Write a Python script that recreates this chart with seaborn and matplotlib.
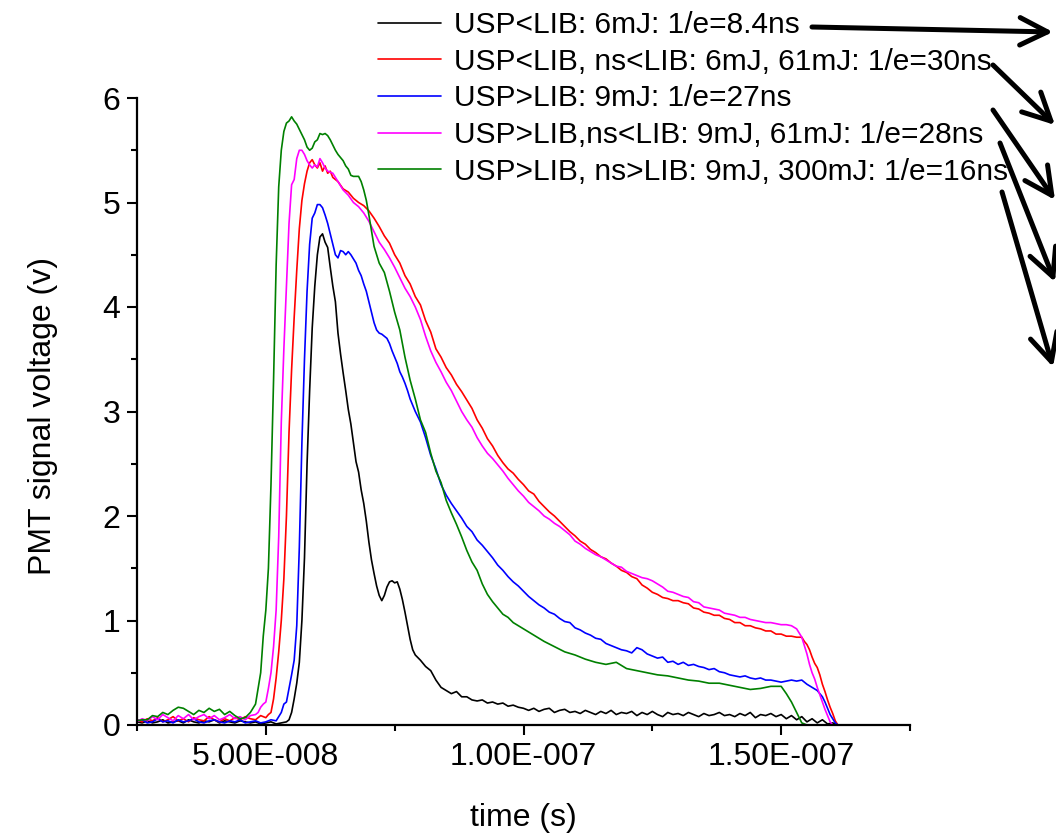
import matplotlib
matplotlib.use("Agg")
import matplotlib.pyplot as plt
from matplotlib.ticker import MultipleLocator, FuncFormatter
import seaborn as sns
import pandas as pd

# ---------------- data (time in ns, signal in V) ----------------
labels = [
    "USP<LIB: 6mJ: 1/e=8.4ns",
    "USP<LIB, ns<LIB: 6mJ, 61mJ: 1/e=30ns",
    "USP>LIB: 9mJ: 1/e=27ns",
    "USP>LIB,ns<LIB: 9mJ, 61mJ: 1/e=28ns",
    "USP>LIB, ns>LIB: 9mJ, 300mJ: 1/e=16ns",
]
colors = ["#000000", "#FF0000", "#0000FF", "#FF00FF", "#008000"]

t_black = list(range(25, 55)) + [54.5, 55, 55.5, 56, 56.5, 57, 57.5, 58, 58.5, 59, 59.5, 60, 60.5, 61, 61.5, 62,
    62.5, 63, 63.5, 64, 64.5, 65, 65.5, 66, 66.5, 67, 67.5, 68, 68.5, 69, 69.5, 70, 70.5, 71, 71.5, 72, 72.5,
    73, 73.5, 74, 74.5, 75, 75.5, 76, 76.5, 77, 77.5, 78, 78.5] + list(range(79, 162))
v_black = [0.03, 0.02, 0.04, 0.02, 0.03, 0.05, 0.02, 0.03, 0.04, 0.02, 0.05, 0.03, 0.02, 0.04, 0.03, 0.05,
    0.02, 0.04, 0.03, 0.02, 0.04, 0.03, 0.02, 0.03, 0.01, 0.02, 0.03, 0.01, 0.02, 0.03,
    0.05, 0.12, 0.25, 0.40, 0.60, 1.00, 1.60, 2.50, 3.20, 3.80, 4.20, 4.50, 4.67, 4.70, 4.62, 4.57,
    4.38, 4.20, 4.05, 3.75, 3.55, 3.37, 3.20, 3.02, 2.88, 2.70, 2.52, 2.42, 2.25, 2.12, 1.95, 1.75, 1.58,
    1.45, 1.33, 1.24, 1.19, 1.24, 1.32, 1.37, 1.38, 1.36, 1.37, 1.30, 1.20, 1.08, 0.95, 0.82, 0.72,
    0.67, 0.62, 0.56, 0.52, 0.43, 0.36, 0.33, 0.30, 0.32, 0.27, 0.27, 0.24, 0.23, 0.24, 0.21, 0.22,
    0.20, 0.21, 0.18, 0.19, 0.17, 0.16, 0.14, 0.16, 0.13, 0.15, 0.16, 0.12, 0.14, 0.15, 0.12, 0.13,
    0.11, 0.14, 0.12, 0.10, 0.13, 0.11, 0.14, 0.10, 0.12, 0.11, 0.13, 0.09, 0.12, 0.10, 0.13, 0.10,
    0.08, 0.12, 0.10, 0.11, 0.09, 0.12, 0.10, 0.08, 0.11, 0.09, 0.10, 0.12, 0.09, 0.10, 0.08, 0.11,
    0.09, 0.12, 0.07, 0.10, 0.09, 0.11, 0.08, 0.10, 0.06, 0.09, 0.05, 0.08, 0.03, 0.06, 0.02, 0.05,
    0.01, 0.02, 0.00]

t_red = list(range(25, 51)) + [50.5, 51, 51.5, 52, 52.5, 53, 53.5, 54, 54.5, 55, 55.5, 56, 56.5, 57, 57.5,
    58, 58.5, 59, 59.5, 60, 60.5, 61, 61.5, 62, 62.5] + list(range(63, 155)) + [154.5, 155, 155.5, 156,
    156.5, 157, 157.5, 158, 158.5, 159, 159.5, 160, 160.5, 161, 162]
v_red = [0.05, 0.03, 0.06, 0.04, 0.07, 0.03, 0.05, 0.08, 0.04, 0.06, 0.03, 0.07, 0.05, 0.04, 0.08, 0.05,
    0.03, 0.06, 0.04, 0.07, 0.05, 0.08, 0.06, 0.05, 0.09, 0.07,
    0.10, 0.12, 0.25, 0.45, 0.70, 1.00, 1.40, 2.00, 2.80, 3.40, 3.90, 4.35, 4.75, 5.02, 5.18,
    5.30, 5.38, 5.41, 5.36, 5.33, 5.38, 5.30, 5.35, 5.28, 5.30,
    5.24, 5.20, 5.13, 5.10, 5.04, 5.00, 4.97, 4.92, 4.85, 4.77, 4.68, 4.61, 4.50, 4.42, 4.30, 4.22,
    4.10, 4.02, 3.87, 3.76, 3.60, 3.52, 3.42, 3.35, 3.26, 3.19, 3.11, 3.03, 2.92, 2.84, 2.74, 2.67,
    2.58, 2.51, 2.45, 2.41, 2.35, 2.30, 2.24, 2.21, 2.14, 2.09, 2.04, 2.00, 1.95, 1.90, 1.85, 1.81,
    1.76, 1.73, 1.68, 1.65, 1.61, 1.59, 1.55, 1.52, 1.48, 1.46, 1.42, 1.40, 1.34, 1.31, 1.27, 1.25,
    1.22, 1.21, 1.19, 1.19, 1.17, 1.16, 1.12, 1.11, 1.08, 1.07, 1.05, 1.05, 1.02, 1.01, 0.98, 0.98,
    0.95, 0.95, 0.93, 0.92, 0.90, 0.90, 0.87, 0.87, 0.85, 0.85, 0.84, 0.84,
    0.80, 0.77, 0.72, 0.65, 0.59, 0.55, 0.48, 0.39, 0.32, 0.24, 0.17, 0.11, 0.04, 0.00, 0.00]

t_blue = list(range(25, 53)) + [52.5, 53, 53.5, 54, 54.5, 55, 55.5, 56, 56.5, 57, 57.5, 58, 58.5, 59, 59.5,
    60, 60.5, 61, 61.5, 62, 62.5, 63, 63.5, 64, 64.5, 65, 65.5, 66, 66.5, 67, 67.5, 68, 68.5, 69, 69.5, 70,
    70.5, 71, 71.5, 72, 72.5, 73, 73.5, 74, 74.5, 75, 75.5, 76, 76.5, 77, 77.5, 78, 78.5, 79, 79.5] + \
    list(range(80, 158)) + [158, 158.5, 159, 159.5, 160, 160.5, 161]
v_blue = [0.04, 0.05, 0.02, 0.03, 0.06, 0.03, 0.04, 0.02, 0.05, 0.03, 0.04, 0.06, 0.03, 0.02, 0.04, 0.05,
    0.03, 0.02, 0.04, 0.03, 0.05, 0.02, 0.03, 0.04, 0.02, 0.03, 0.05, 0.04,
    0.08, 0.12, 0.20, 0.22, 0.35, 0.48, 0.62, 0.95, 1.70, 2.70, 3.50, 4.15, 4.60, 4.85, 4.90,
    4.98, 4.98, 4.95, 4.88, 4.80, 4.70, 4.60, 4.50, 4.47, 4.54, 4.53, 4.50, 4.53, 4.50, 4.46, 4.42,
    4.35, 4.30, 4.22, 4.15, 4.05, 3.95, 3.85, 3.78, 3.75, 3.74, 3.72, 3.70, 3.65, 3.58, 3.52, 3.46,
    3.38, 3.33, 3.27, 3.20, 3.12, 3.06, 3.00, 2.95,
    2.90, 2.75, 2.58, 2.45, 2.30, 2.20, 2.12, 2.05, 1.98, 1.90, 1.85, 1.77, 1.72, 1.66, 1.60, 1.53,
    1.48, 1.42, 1.37, 1.33, 1.28, 1.23, 1.19, 1.15, 1.12, 1.08, 1.06, 1.02, 0.99, 0.98, 0.93, 0.91,
    0.88, 0.86, 0.83, 0.82, 0.78, 0.76, 0.74, 0.72, 0.71, 0.69, 0.74, 0.72, 0.68, 0.66, 0.64, 0.65,
    0.60, 0.61, 0.58, 0.60, 0.57, 0.58, 0.56, 0.55, 0.53, 0.54, 0.51, 0.50, 0.48, 0.47, 0.46, 0.47,
    0.45, 0.44, 0.45, 0.43, 0.43, 0.42, 0.41, 0.42, 0.43, 0.42, 0.43, 0.39, 0.36, 0.33,
    0.27, 0.22, 0.16, 0.10, 0.06, 0.02, 0.00]

t_mag = list(range(25, 48)) + [48, 48.5, 49, 49.5, 50, 50.5, 51, 51.5, 52, 52.5, 53, 53.5, 54, 54.5, 55,
    55.5, 56, 56.5, 57, 57.5, 58, 58.5, 59, 59.5, 60, 60.5, 61, 61.5, 62] + list(range(63, 154)) + \
    [154, 154.5, 155, 155.5, 156, 156.5, 157, 157.5, 158, 158.5, 159, 159.5, 160, 161]
v_mag = [0.03, 0.06, 0.04, 0.08, 0.05, 0.10, 0.07, 0.04, 0.09, 0.06, 0.10, 0.05, 0.08, 0.10, 0.06, 0.09,
    0.05, 0.07, 0.10, 0.06, 0.08, 0.05, 0.09,
    0.10, 0.12, 0.17, 0.20, 0.22, 0.35, 0.50, 0.75, 1.10, 1.80, 2.90, 3.60, 4.20, 4.80, 5.17,
    5.22, 5.42, 5.50, 5.50, 5.46, 5.40, 5.36, 5.33, 5.36, 5.34, 5.42, 5.38, 5.33, 5.30,
    5.28, 5.20, 5.12, 5.07, 5.00, 4.96, 4.90, 4.82, 4.72, 4.62, 4.55, 4.47, 4.38, 4.28, 4.18, 4.10,
    4.00, 3.88, 3.72, 3.58, 3.47, 3.38, 3.28, 3.20, 3.10, 3.00, 2.92, 2.85, 2.75, 2.67, 2.60, 2.55,
    2.49, 2.43, 2.36, 2.30, 2.24, 2.19, 2.13, 2.09, 2.05, 2.00, 1.97, 1.93, 1.90, 1.86, 1.82, 1.76,
    1.73, 1.69, 1.66, 1.63, 1.61, 1.58, 1.55, 1.52, 1.51, 1.47, 1.45, 1.43, 1.41, 1.40, 1.38, 1.35,
    1.32, 1.28, 1.27, 1.25, 1.23, 1.22, 1.18, 1.17, 1.13, 1.12, 1.11, 1.10, 1.07, 1.06, 1.05, 1.03,
    1.03, 1.01, 1.00, 0.99, 0.98, 0.98, 0.97, 0.96, 0.96, 0.95, 0.92,
    0.84, 0.76, 0.68, 0.58, 0.50, 0.44, 0.36, 0.29, 0.22, 0.15, 0.09, 0.03, 0.00, 0.00]

t_green = list(range(25, 48)) + [47.5, 48, 48.5, 49, 49.5, 50, 50.5, 51, 51.5, 52, 52.5, 53, 53.5, 54, 54.5,
    55, 55.5, 56, 56.5, 57, 57.5, 58, 58.5, 59, 59.5, 60, 60.5, 61, 61.5, 62, 62.5, 63, 63.5, 64, 64.5, 65,
    65.5, 66, 66.5, 67, 67.5, 68, 68.5, 69, 69.5] + list(range(70, 101)) + list(range(102, 151, 2)) + \
    [151, 152, 153, 154, 155, 156]
v_green = [0.04, 0.05, 0.05, 0.09, 0.08, 0.12, 0.10, 0.14, 0.17, 0.16, 0.13, 0.10, 0.14, 0.12, 0.16, 0.13,
    0.15, 0.10, 0.13, 0.09, 0.06, 0.07, 0.12,
    0.16, 0.20, 0.35, 0.50, 0.85, 1.10, 1.50, 2.30, 3.30, 4.40, 5.15, 5.50, 5.68, 5.76, 5.78,
    5.82, 5.78, 5.75, 5.70, 5.65, 5.60, 5.53, 5.50, 5.52, 5.58, 5.60, 5.66, 5.65, 5.66, 5.64, 5.60,
    5.55, 5.50, 5.46, 5.43, 5.40, 5.35, 5.32, 5.26, 5.25, 5.25, 5.25, 5.20, 5.12, 5.02,
    4.88, 4.58, 4.42, 4.33, 4.15, 3.95, 3.78, 3.52, 3.30, 3.12, 2.92, 2.80, 2.60, 2.43, 2.32, 2.15,
    2.03, 1.92, 1.80, 1.67, 1.56, 1.48, 1.35, 1.25, 1.18, 1.12, 1.06, 1.03, 0.98, 0.95, 0.92,
    0.86, 0.80, 0.75, 0.70, 0.67, 0.63, 0.60, 0.58, 0.60, 0.54, 0.52, 0.50, 0.48, 0.47, 0.45, 0.43,
    0.42, 0.40, 0.40, 0.38, 0.36, 0.34, 0.35, 0.37, 0.37,
    0.30, 0.22, 0.12, 0.02, 0.00, 0.00]

series_t = [t_black, t_red, t_blue, t_mag, t_green]
series_v = [v_black, v_red, v_blue, v_mag, v_green]

frames = []
for lab, tt, vv in zip(labels, series_t, series_v):
    frames.append(pd.DataFrame({"time": [x * 1e-9 for x in tt], "signal": vv, "series": lab}))
df = pd.concat(frames, ignore_index=True)

# ---------------- style ----------------
sns.set_style("ticks")
plt.rcParams["font.family"] = ["Liberation Sans", "DejaVu Sans"]
plt.rcParams["text.color"] = "black"
plt.rcParams["axes.labelcolor"] = "black"
plt.rcParams["xtick.color"] = "black"
plt.rcParams["ytick.color"] = "black"

fig = plt.figure(figsize=(10.56, 8.34), dpi=100)
ax = fig.add_axes([137 / 1056, 1 - 725 / 834, 773 / 1056, 627 / 834])

sns.lineplot(data=df, x="time", y="signal", hue="series", hue_order=labels,
             palette=dict(zip(labels, colors)), estimator=None, sort=False,
             linewidth=1.2, legend=False, ax=ax)

ax.set_xlim(2.5e-8, 1.75e-7)
ax.set_ylim(0, 6)
ax.xaxis.set_major_locator(MultipleLocator(5e-8))
ax.xaxis.set_minor_locator(MultipleLocator(2.5e-8))
ax.yaxis.set_major_locator(MultipleLocator(1))
ax.yaxis.set_minor_locator(MultipleLocator(0.5))


def sci_fmt(v, pos):
    m, e = f"{v:.2E}".split("E")
    ei = int(e)
    return f"{m}E{'-' if ei < 0 else '+'}{abs(ei):03d}"


ax.xaxis.set_major_formatter(FuncFormatter(sci_fmt))

for s in ["top", "right"]:
    ax.spines[s].set_visible(False)
for s in ["left", "bottom"]:
    ax.spines[s].set_linewidth(1.6)
    ax.spines[s].set_color("black")

ax.tick_params(axis="both", which="major", direction="out", length=7, width=1.5,
               labelsize=23, colors="black", labelcolor="black", pad=5)
ax.tick_params(axis="both", which="minor", direction="out", length=4.5, width=1.5, colors="black")

ax.set_xlabel("time (s)", fontsize=23, color="black")
ax.set_ylabel("PMT signal voltage (v)", fontsize=23, color="black")
ax.xaxis.set_label_coords(0.5, -0.124)
ax.yaxis.set_label_coords(-0.102, 0.493)

lines = ax.get_lines()[:5]
fig.legend(lines, labels, loc="upper left", bbox_to_anchor=(378 / 1056, 1 - 11 / 834),
           frameon=False, fontsize=21.5, handlelength=2.1, handletextpad=0.45,
           labelspacing=0.29, borderpad=0, borderaxespad=0, labelcolor="black")

# hand-drawn style arrows (figure pixel coordinates)
arrows = [((812, 27), (1053, 32)), ((993, 65), (1055, 125)), ((993, 110), (1055, 200)),
          ((1000, 143), (1055, 282)), ((1002, 192), (1053, 367))]
for (x1, y1), (x2, y2) in arrows:
    ax.annotate("", xy=(x2, 834 - y2), xytext=(x1, 834 - y1), xycoords="figure pixels",
                textcoords="figure pixels", annotation_clip=False,
                arrowprops=dict(arrowstyle="->,head_length=0.9,head_width=0.45", lw=3.6,
                                color="black", shrinkA=0, shrinkB=0, mutation_scale=22))

fig.savefig("out.png", dpi=100)
